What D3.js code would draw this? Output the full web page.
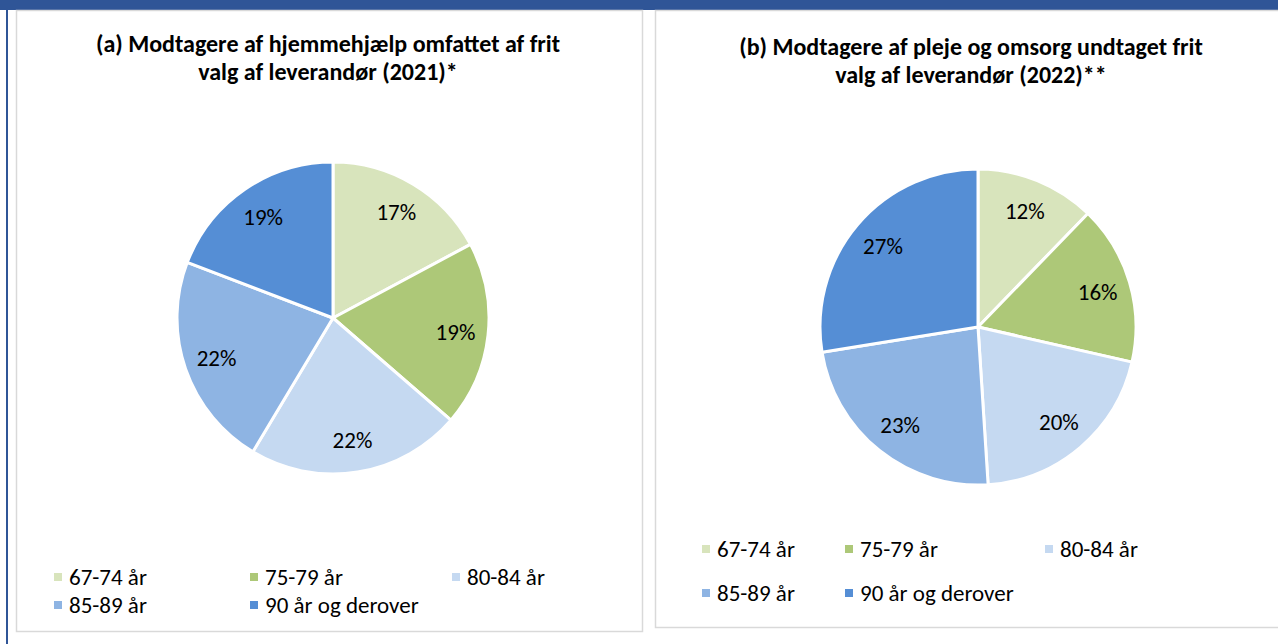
<!DOCTYPE html>
<html>
<head>
<meta charset="utf-8">
<script src="https://cdn.jsdelivr.net/npm/d3@7"></script>
<style>
  body { margin: 0; background: #fff; }
  svg { display: block; font-family: Carlito, "Liberation Sans", Arial, sans-serif; }
</style>
</head>
<body>
<div id="chart"></div>
<script>
// data
const categories = ["67-74 år", "75-79 år", "80-84 år", "85-89 år", "90 år og derover"];
const valuesA = [17, 19, 22, 22, 19];
const valuesB = [12, 16, 20, 23, 27];
const titleA = ["(a) Modtagere af hjemmehjælp omfattet af frit", "valg af leverandør (2021)*"];
const titleB = ["(b) Modtagere af pleje og omsorg undtaget frit", "valg af leverandør (2022)**"];

const colors = ["#d8e4bc", "#adc878", "#c5d9f1", "#8eb4e3", "#558ed5"];

const width = 1278, height = 644;
const svg = d3.select("#chart").append("svg")
    .attr("width", width)
    .attr("height", height);

// frame
svg.append("rect").attr("x", 0).attr("y", 0).attr("width", width).attr("height", 10).attr("fill", "#2f5597");
svg.append("rect").attr("x", 6).attr("y", 0).attr("width", 2).attr("height", height).attr("fill", "#2f5597");

const color = d3.scaleOrdinal().domain(categories).range(colors);

const panels = [
    { box: [16.5, 10.5, 626, 621], title: titleA, tx: 328, ty: 52, values: valuesA,
      cx: 333, cy: 318, r: 156, legX: [54, 250, 452], legY: [577, 605] },
    { box: [655.5, 10.5, 660, 617], title: titleB, tx: 971, ty: 55, values: valuesB,
      cx: 978, cy: 327, r: 158, legX: [702, 845, 1045], legY: [549, 593] }
];

const pie = d3.pie().sort(null).value(d => d.value);

panels.forEach(p => {
    svg.append("rect")
        .attr("x", p.box[0]).attr("y", p.box[1])
        .attr("width", p.box[2]).attr("height", p.box[3])
        .attr("fill", "#fff")
        .attr("stroke", "#d9d9d9")
        .attr("stroke-width", 1.5);

    svg.append("text")
        .attr("text-anchor", "middle")
        .attr("font-weight", "bold")
        .attr("font-size", 24)
        .attr("fill", "#000")
        .selectAll("tspan")
        .data(p.title)
        .enter().append("tspan")
        .attr("x", p.tx)
        .attr("y", (d, i) => p.ty + i * 28)
        .text(d => d);

    const data = categories.map((c, i) => ({ cat: c, value: p.values[i] }));
    const arcs = pie(data);
    const arc = d3.arc().innerRadius(0).outerRadius(p.r);
    const labelArc = d3.arc().innerRadius(p.r * 0.79).outerRadius(p.r * 0.79);

    const g = svg.append("g").attr("transform", `translate(${p.cx},${p.cy})`);
    g.selectAll("path")
        .data(arcs)
        .enter().append("path")
        .attr("d", arc)
        .attr("fill", d => color(d.data.cat))
        .attr("stroke", "#fff")
        .attr("stroke-width", 3)
        .attr("stroke-linejoin", "round");

    g.selectAll("text")
        .data(arcs)
        .enter().append("text")
        .attr("transform", d => `translate(${labelArc.centroid(d)})`)
        .attr("text-anchor", "middle")
        .attr("dy", "0.35em")
        .attr("font-size", 23)
        .attr("fill", "#000")
        .text(d => d.data.value + "%");

    // legend, three per row
    const leg = svg.append("g");
    const items = leg.selectAll("g")
        .data(categories)
        .enter().append("g")
        .attr("transform", (d, i) => `translate(${p.legX[i % 3]},${p.legY[Math.floor(i / 3)]})`);
    items.append("rect")
        .attr("x", 0).attr("y", -4)
        .attr("width", 8).attr("height", 8)
        .attr("fill", d => color(d));
    items.append("text")
        .attr("x", 15)
        .attr("dy", "0.36em")
        .attr("font-size", 23)
        .attr("fill", "#000")
        .text(d => d);
});
</script>
</body>
</html>
